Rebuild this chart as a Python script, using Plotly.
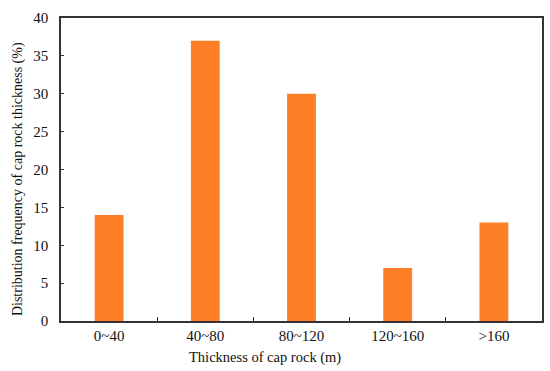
import plotly.graph_objects as go

categories = ["0~40", "40~80", "80~120", "120~160", ">160"]
values = [14, 37, 30, 7, 13]
y_ticks = [0, 5, 10, 15, 20, 25, 30, 35, 40]

fig = go.Figure(go.Bar(
    x=categories, y=values,
    marker=dict(color="#FF7F27", line=dict(width=0)),
    width=0.3,
))

FONT = "Liberation Serif, Times New Roman, serif"
fig.update_layout(
    width=550, height=371,
    margin=dict(l=61, r=8, t=18, b=50, autoexpand=False),
    paper_bgcolor="white", plot_bgcolor="white",
    font=dict(family=FONT, size=14, color="#111"),
    showlegend=False,
    annotations=[
        dict(text="Thickness of cap rock (m)", xref="paper", yref="paper",
             x=0.424, y=-0.119, xanchor="center", yanchor="middle", showarrow=False,
             font=dict(family=FONT, size=14.5, color="#111")),
        dict(text="Distribution frequency of cap rock thickness (%)", xref="paper", yref="paper",
             x=-0.089, y=0.469, xanchor="center", yanchor="middle", textangle=-90, showarrow=False,
             font=dict(family=FONT, size=14, color="#111")),
    ],
)
fig.update_xaxes(
    showline=True, linecolor="#333", linewidth=1.5, mirror=True,
    ticks="inside", tickson="boundaries", ticklen=4, tickcolor="#333",
    showgrid=False, tickfont=dict(size=15), automargin=False, ticklabelstandoff=0,
)
fig.update_yaxes(
    range=[0, 40], tickvals=y_ticks,
    showline=True, linecolor="#333", linewidth=1.5, mirror=True,
    ticks="inside", ticklen=3, tickcolor="#333",
    showgrid=False, zeroline=False, tickfont=dict(size=15), automargin=False,
    ticklabelstandoff=8,
)
fig.write_html("out.html", config={"displayModeBar": False},
               post_script="document.body.style.margin='0';document.body.style.overflow='hidden';")
